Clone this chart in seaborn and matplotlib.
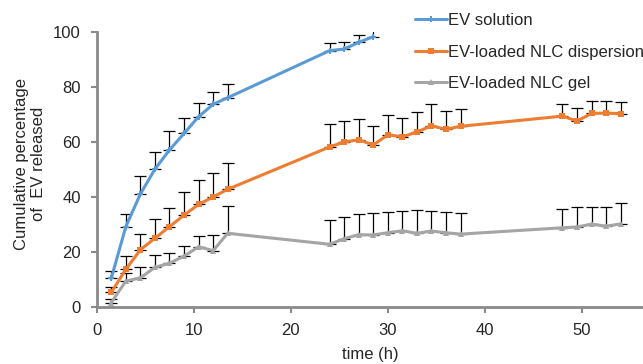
import numpy as np
import pandas as pd
import matplotlib
matplotlib.use("Agg")
import matplotlib.pyplot as plt
import seaborn as sns

# Sampling times (h)
t_solution = [1.5, 3, 4.5, 6, 7.5, 9, 10.5, 12, 13.5, 24, 25.5, 27, 28.5]
t_nlc = [1.5, 3, 4.5, 6, 7.5, 9, 10.5, 12, 13.5,
         24, 25.5, 27, 28.5, 30, 31.5, 33, 34.5, 36, 37.5,
         48, 49.5, 51, 52.5, 54]

# Cumulative release (%) and upper error (SD)
ev_solution = [10.3, 29.1, 41.0, 50.0, 57.0, 63.0, 69.1, 73.6, 76.0,
               93.1, 93.7, 96.1, 98.2]
ev_solution_sd = [2.8, 4.6, 6.5, 6.4, 6.9, 5.5, 5.1, 4.6, 5.1,
                  2.9, 2.7, 2.8, 2.5]

nlc_dispersion = [5.2, 13.6, 20.7, 24.9, 29.1, 33.3, 37.2, 39.9, 42.7,
                  58.1, 59.9, 60.7, 58.8, 62.5, 61.8, 63.5, 65.8, 64.5, 65.6,
                  69.3, 67.5, 70.3, 70.4, 70.2]
nlc_dispersion_sd = [2.1, 4.9, 5.6, 6.9, 6.8, 8.3, 8.9, 8.8, 9.4,
                     8.2, 7.6, 7.6, 7.0, 7.2, 6.8, 7.2, 7.8, 6.6, 6.3,
                     4.5, 4.6, 4.4, 4.3, 4.1]

nlc_gel = [1.5, 9.3, 10.5, 14.3, 15.8, 18.4, 21.8, 20.4, 26.7,
           22.7, 24.7, 26.2, 26.1, 26.9, 27.6, 26.7, 27.5, 26.9, 26.4,
           28.7, 29.0, 30.0, 29.3, 30.1]
nlc_gel_sd = [1.4, 3.0, 3.8, 4.5, 3.6, 3.8, 4.0, 5.8, 10.0,
              8.8, 7.8, 7.4, 7.9, 7.6, 7.3, 8.6, 7.3, 7.5, 7.6,
              6.9, 7.1, 6.4, 7.1, 7.6]

series_names = ["EV solution", "EV-loaded NLC dispersion", "EV-loaded NLC gel"]
colors = ["#5B9BD5", "#ED7D31", "#A5A5A5"]
markers = ["P", "s", "^"]
marker_sizes = [4, 5, 5]

x_ticks = [0, 10, 20, 30, 40, 50]
y_ticks = [0, 20, 40, 60, 80, 100]

sns.set_style("white")
plt.rcParams["font.family"] = ["Liberation Sans", "DejaVu Sans"]
FS = 12

fig = plt.figure(figsize=(6.43, 3.64), dpi=100)
ax = fig.add_axes([0.1504, 0.1574, 0.8496, 0.7555])

spine_col = "#8A8A8A"
data = [(t_solution, ev_solution, ev_solution_sd),
        (t_nlc, nlc_dispersion, nlc_dispersion_sd),
        (t_nlc, nlc_gel, nlc_gel_sd)]

for (t, y, sd), name, c, m, ms in zip(data, series_names, colors, markers, marker_sizes):
    df = pd.DataFrame({"time": t, "release": y})
    # upper-only error bars
    ax.errorbar(t, y, yerr=[np.zeros(len(sd)), sd], fmt="none",
                ecolor="black", elinewidth=0.9, capsize=4.3, capthick=0.9, zorder=2)
    sns.lineplot(data=df, x="time", y="release", ax=ax, color=c, lw=2.2,
                 marker=m, markersize=ms, markeredgewidth=0, label=name,
                 zorder=3, errorbar=None)

ax.set_xlim(0, 56.3)
ax.set_ylim(0, 100)
ax.set_xticks(x_ticks)
ax.set_yticks(y_ticks)
ax.tick_params(axis="both", labelsize=FS, length=4.5, width=1.5,
               color=spine_col, direction="out")
ax.tick_params(axis="x", bottom=True, pad=7)
ax.tick_params(axis="y", left=True, pad=7)
for s in ["top", "right"]:
    ax.spines[s].set_visible(False)
for s in ["left", "bottom"]:
    ax.spines[s].set_color(spine_col)
    ax.spines[s].set_linewidth(2)

ax.set_xlabel("time (h)", fontsize=FS, labelpad=7)
ax.set_ylabel("Cumulative percentage\nof  EV released", fontsize=FS,
              linespacing=1.15)
ax.yaxis.set_label_coords(-0.093, 0.52)

leg = ax.legend(loc="upper left", bbox_to_anchor=(415 / 643, 1 - 13 / 364),
                bbox_transform=fig.transFigure, frameon=False,
                fontsize=FS, handlelength=1.9, handletextpad=0.1,
                labelspacing=1.0, borderaxespad=0, borderpad=0)

fig.savefig("out.png", dpi=100)
